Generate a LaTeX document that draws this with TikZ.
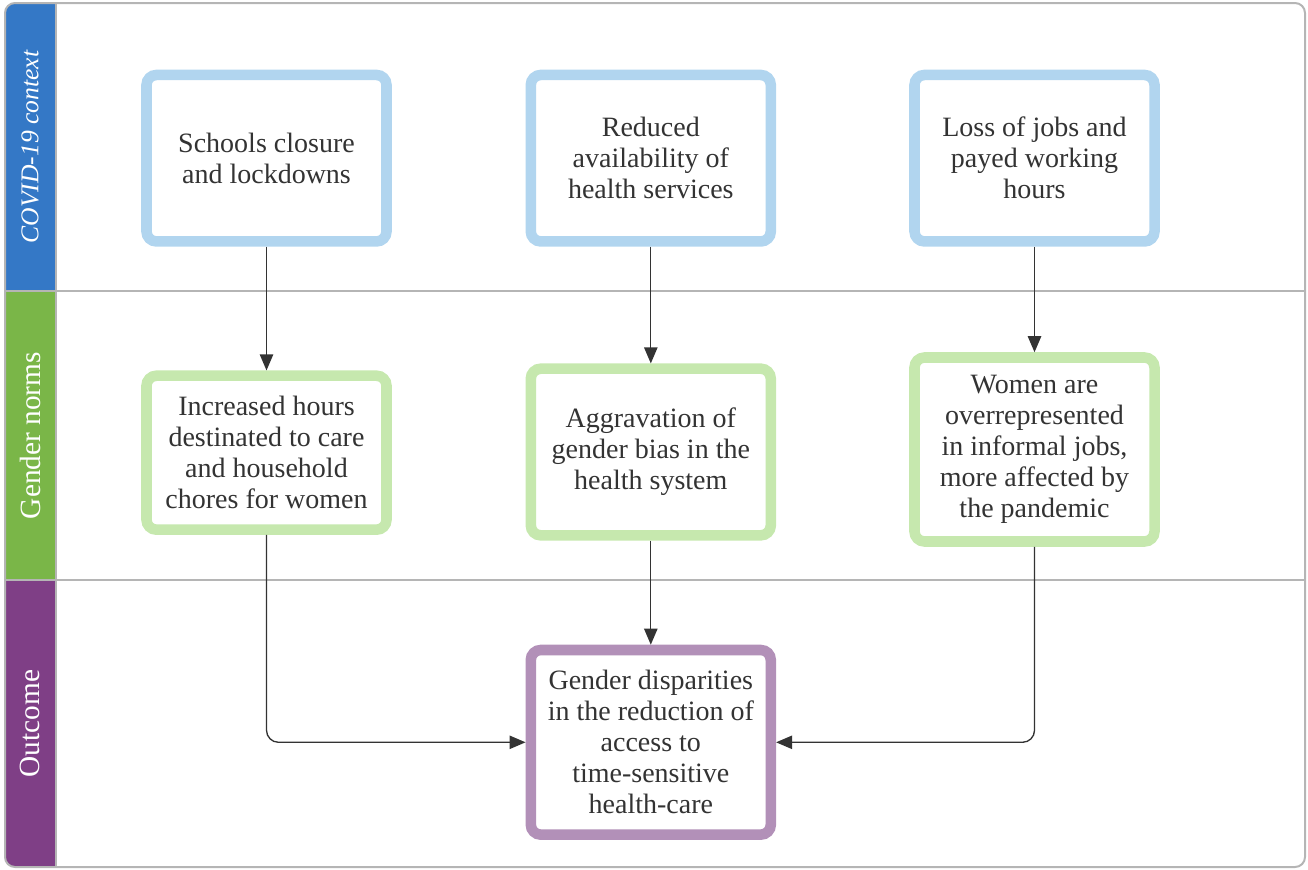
\documentclass[tikz,border=0pt]{standalone}
\usepackage{fontspec}
\setmainfont{Liberation Serif}
\usetikzlibrary{arrows.meta}
\definecolor{hdrblue}{HTML}{3478C6}
\definecolor{hdrgreen}{HTML}{7AB648}
\definecolor{hdrpurple}{HTML}{7F3F86}
\definecolor{bblue}{HTML}{B1D5EF}
\definecolor{bgreen}{HTML}{C6E8AE}
\definecolor{bpurple}{HTML}{B290B8}
\definecolor{txt}{HTML}{333333}
\definecolor{frame}{HTML}{B5B5B5}
\tikzset{
  card/.style={draw, rounded corners=7.5pt, line width=7.9pt, fill=white,
    minimum width=180pt, inner sep=0pt, align=center, text=txt,
    font=\fontsize{21}{23.25}\selectfont},
  bluecard/.style={card, draw=bblue},
  greencard/.style={card, draw=bgreen},
  purplecard/.style={card, draw=bpurple},
  lanelbl/.style={rotate=90, text=white, inner sep=0pt},
  conn/.style={draw=txt, line width=1pt, -{Triangle[length=12pt,width=10pt]}},
  divider/.style={draw=frame, line width=1.5pt}
}
\begin{document}
\begin{tikzpicture}[x=0.75pt,y=-0.75pt]
\useasboundingbox (0,0) rectangle (1308,869);
% header column fills
\begin{scope}
\clip[rounded corners=7.5pt] (5,3) rectangle (1305,867);
\fill[hdrblue] (5,3) rectangle (55,291);
\fill[hdrgreen] (5,291) rectangle (55,580);
\fill[hdrpurple] (5,580) rectangle (55,867);
\end{scope}
% lane dividers
\draw[divider] (5,291) -- (1305,291);
\draw[divider] (5,580) -- (1305,580);
\draw[divider] (55.5,3) -- (55.5,867);
\draw[divider, rounded corners=7.5pt] (5,3) rectangle (1305,867);
% lane labels
\node[lanelbl, font=\fontsize{19.2}{22}\selectfont\itshape] (lane1) at (30,147) {COVID-19 context};
\node[lanelbl, font=\fontsize{22}{24}\selectfont] (lane2) at (30,435.5) {Gender norms};
\node[lanelbl, font=\fontsize{22}{24}\selectfont] (lane3) at (30,723.5) {Outcome};
% cards
\node[bluecard, minimum height=124.9pt] (b1) at (266.5,158.2) {Schools closure\\and lockdowns};
\node[bluecard, minimum height=124.9pt] (b2) at (650.8,158.2) {Reduced\\availability of\\health services};
\node[bluecard, minimum height=124.9pt] (b3) at (1034.5,158.2) {Loss of jobs and\\payed working\\hours};
\node[greencard, minimum height=115.5pt] (g1) at (266.5,452.7) {Increased hours\\destinated to care\\and household\\chores for women};
\node[greencard, minimum height=125pt] (g2) at (650.8,452) {Aggravation of\\gender bias in the\\health system};
\node[greencard, minimum height=138pt] (g3) at (1034.5,449.5) {Women are\\overrepresented\\in informal jobs,\\more affected by\\the pandemic};
\node[purplecard, minimum height=138.5pt] (p) at (650.8,742.3) {Gender disparities\\in the reduction of\\access to\\time-sensitive\\health-care};
% connectors
\draw[conn] (b1.south) -- (g1.north);
\draw[conn] (b2.south) -- (g2.north);
\draw[conn] (b3.south) -- (g3.north);
\draw[conn] (g2.south) -- (p.north);
\draw[conn, rounded corners=9pt] (g1.south) |- (p.west);
\draw[conn, rounded corners=9pt] (g3.south) |- (p.east);
\end{tikzpicture}
\end{document}
